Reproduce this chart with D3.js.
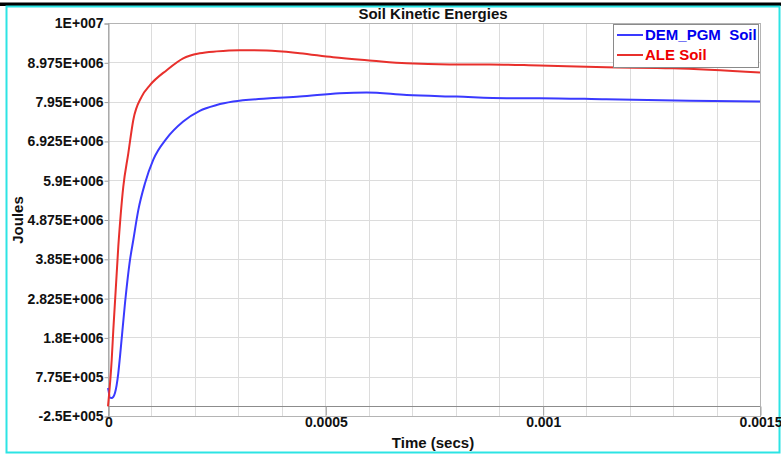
<!DOCTYPE html>
<html>
<head>
<meta charset="utf-8">
<script src="https://cdn.jsdelivr.net/npm/d3@7"></script>
<style>
  body { margin: 0; background: #fff; }
  text { font-family: "Liberation Sans", Arial, sans-serif; font-weight: bold; }
</style>
</head>
<body>
<div class="chart"></div>
<script>
// data
var demTime = [0, 0.0000015, 0.000004, 0.000008, 0.0000122, 0.000016, 0.0000198, 0.0000237, 0.0000276,
  0.0000391, 0.0000506, 0.0000582, 0.0000697, 0.0000851, 0.000104, 0.000135, 0.000173, 0.000211,
  0.00025, 0.000288, 0.000365, 0.000441, 0.000533, 0.000595, 0.000687, 0.000802, 0.000917,
  0.000993, 0.001146, 0.001338, 0.0015];
var demEnergy = [480000, 400000, 230000, 220000, 250000, 350000, 550000, 870000, 1300000,
  2690000, 3820000, 4340000, 5120000, 5820000, 6430000, 6990000, 7430000, 7710000,
  7860000, 7950000, 8030000, 8080000, 8170000, 8190000, 8120000, 8080000, 8040000,
  8040000, 8010000, 7970000, 7950000];

var aleTime = [0, 0.0000085, 0.0000122, 0.0000237, 0.0000352, 0.0000467, 0.0000582, 0.0000775,
  0.0000966, 0.000135, 0.000173, 0.000211, 0.00025, 0.000303, 0.000365, 0.000441, 0.000518,
  0.000609, 0.000687, 0.000786, 0.000878, 0.000993, 0.001146, 0.001299, 0.0015];
var aleEnergy = [0, 1210000, 1990000, 4170000, 5730000, 6600000, 7470000, 8080000,
  8380000, 8770000, 9080000, 9210000, 9260000, 9290000, 9280000, 9210000, 9105000,
  9017000, 8950000, 8920000, 8920000, 8890000, 8845000, 8820000, 8710000];

var yTickValues = [-250000, 775000, 1800000, 2825000, 3850000, 4875000, 5900000, 6925000, 7950000, 8975000, 10000000];
var yTickLabels = ["-2.5E+005", "7.75E+005", "1.8E+006", "2.825E+006", "3.85E+006", "4.875E+006",
  "5.9E+006", "6.925E+006", "7.95E+006", "8.975E+006", "1E+007"];
var xTickValues = [0, 0.0005, 0.001, 0.0015];
var xTickLabels = ["0", "0.0005", "0.001", "0.0015"];
var xGridValues = d3.range(0, 16).map(i => i * 0.0001);

var seriesNames = ["DEM_PGM  Soil", "ALE Soil"];
var seriesColors = ["#3a3aff", "#e8302c"];
var legendColors = ["#0000ee", "#ee0000"];

var svgWidth = 781;
var svgHeight = 454;

var svg = d3.select(".chart")
  .append("svg")
  .attr("width", svgWidth)
  .attr("height", svgHeight);

// frame
svg.append("rect")
  .attr("x", 0).attr("y", 2.5)
  .attr("width", svgWidth).attr("height", 3.5)
  .attr("fill", "#000");
svg.append("rect")
  .attr("x", 6.5).attr("y", 6.5)
  .attr("width", 773).attr("height", 446)
  .attr("fill", "none")
  .attr("stroke", "#2ce4e4")
  .attr("stroke-width", 2);

var xScale = d3.scaleLinear().domain([0, 0.0015]).range([108, 760]);
var yScale = d3.scaleLinear().domain([-250000, 10000000]).range([416, 23]);

// grid
svg.append("g")
  .selectAll("line")
  .data(xGridValues)
  .enter()
  .append("line")
  .attr("x1", d => Math.round(xScale(d)) + 0.5)
  .attr("x2", d => Math.round(xScale(d)) + 0.5)
  .attr("y1", yScale(10000000))
  .attr("y2", yScale(-250000))
  .attr("stroke", "#dcdcdc");

svg.append("g")
  .selectAll("line")
  .data(yTickValues)
  .enter()
  .append("line")
  .attr("x1", xScale(0))
  .attr("x2", xScale(0.0015))
  .attr("y1", d => Math.round(yScale(d)) + 0.5)
  .attr("y2", d => Math.round(yScale(d)) + 0.5)
  .attr("stroke", "#dcdcdc");

// plot border
svg.append("rect")
  .attr("x", xScale(0) + 0.5)
  .attr("y", yScale(10000000) + 0.5)
  .attr("width", xScale(0.0015) - xScale(0))
  .attr("height", yScale(-250000) - yScale(10000000))
  .attr("fill", "none")
  .attr("stroke", "#b4b4b4");

// zero line
svg.append("line")
  .attr("x1", xScale(0))
  .attr("x2", xScale(0.0015))
  .attr("y1", Math.round(yScale(0)) + 0.5)
  .attr("y2", Math.round(yScale(0)) + 0.5)
  .attr("stroke", "#8c8c8c");

// axes
var leftAxis = d3.axisLeft(yScale)
  .tickValues(yTickValues)
  .tickSize(4)
  .tickPadding(1)
  .tickFormat((d, i) => yTickLabels[i]);

var yAxis = svg.append("g")
  .attr("transform", `translate(${xScale(0) + 0.5}, 0.5)`)
  .call(leftAxis);
yAxis.select(".domain").attr("stroke", "#a0a0a0");
yAxis.selectAll(".tick line").attr("stroke", "#a0a0a0");
yAxis.selectAll("text")
  .attr("fill", "#111")
  .attr("font-size", 14)
  .style("font-family", "Liberation Sans, Arial, sans-serif");

var bottomAxis = d3.axisBottom(xScale)
  .tickValues(xTickValues)
  .tickSize(9)
  .tickPadding(2)
  .tickFormat((d, i) => xTickLabels[i]);

var xAxis = svg.append("g")
  .attr("transform", `translate(0.5, ${Math.round(yScale(0)) + 0.5})`)
  .call(bottomAxis);
xAxis.select(".domain").remove();
xAxis.selectAll(".tick line").attr("stroke", "#a0a0a0");
xAxis.selectAll("text")
  .attr("fill", "#111")
  .attr("font-size", 14)
  .style("font-family", "Liberation Sans, Arial, sans-serif");

// lines
var line = d3.line()
  .x(d => xScale(d[0]))
  .y(d => yScale(d[1]))
  .curve(d3.curveMonotoneX);

var demData = demTime.map((t, i) => [t, demEnergy[i]]);
var aleData = aleTime.map((t, i) => [t, aleEnergy[i]]);

svg.append("path")
  .datum(demData)
  .attr("d", line)
  .attr("fill", "none")
  .attr("stroke", seriesColors[0])
  .attr("stroke-width", 2);

svg.append("path")
  .datum(aleData)
  .attr("d", line)
  .attr("fill", "none")
  .attr("stroke", seriesColors[1])
  .attr("stroke-width", 2);

// titles
svg.append("text")
  .attr("x", 433)
  .attr("y", 19)
  .attr("text-anchor", "middle")
  .attr("font-size", 15)
  .attr("fill", "#111")
  .text("Soil Kinetic Energies");

svg.append("text")
  .attr("x", 433)
  .attr("y", 448)
  .attr("text-anchor", "middle")
  .attr("font-size", 15)
  .attr("fill", "#111")
  .text("Time (secs)");

svg.append("text")
  .attr("transform", "translate(23, 220) rotate(-90)")
  .attr("text-anchor", "middle")
  .attr("font-size", 15)
  .attr("fill", "#111")
  .text("Joules");

// legend
var legend = svg.append("g");
legend.append("rect")
  .attr("x", 613.5).attr("y", 24.5)
  .attr("width", 145).attr("height", 43)
  .attr("fill", "#fff")
  .attr("stroke", "#8a8a8a");

var legendItems = legend.selectAll(".item")
  .data(seriesNames)
  .enter()
  .append("g")
  .attr("transform", (d, i) => `translate(0, ${35 + i * 20})`);

legendItems.append("line")
  .attr("x1", 617).attr("x2", 643)
  .attr("y1", 0).attr("y2", 0)
  .attr("stroke", (d, i) => seriesColors[i])
  .attr("stroke-width", 2);

legendItems.append("text")
  .attr("x", 645)
  .attr("y", 5)
  .attr("font-size", 15)
  .attr("fill", (d, i) => legendColors[i])
  .style("white-space", "pre")
  .text(d => d);
</script>
</body>
</html>
